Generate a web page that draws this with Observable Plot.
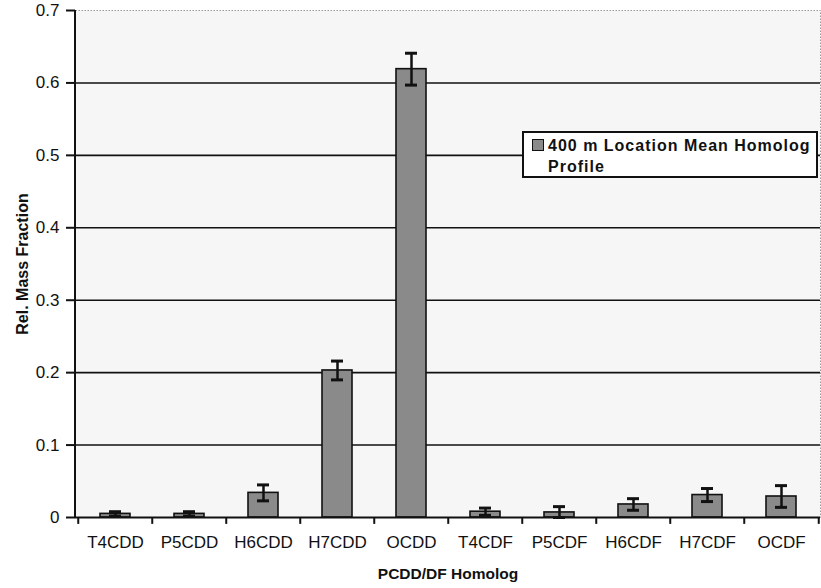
<!DOCTYPE html>
<html>
<head>
<meta charset="utf-8">
<script src="https://cdn.jsdelivr.net/npm/d3@7"></script>
<script src="https://cdn.jsdelivr.net/npm/@observablehq/plot@0.6"></script>
<style>
  html, body { margin: 0; padding: 0; background: #fff; }
  #wrap { position: relative; width: 821px; height: 588px; font-family: "Liberation Sans", Arial, sans-serif; }
  #legend {
    position: absolute; left: 522px; top: 131px; width: 288px; height: 43px;
    background: #fff; border: 2px solid #111; padding: 2px 0 0 4px; box-sizing: content-box;
    font-weight: bold; font-size: 16px; letter-spacing: 1px; color: #111; line-height: 21px;
  }
  #legend .sw { display: inline-block; width: 10px; height: 10px; background: #8a8a8a; border: 1.5px solid #111; margin: 0 4px 0 4px; vertical-align: 0px; }
</style>
</head>
<body>
<div id="wrap"></div>
<script>
const categories = ["T4CDD","P5CDD","H6CDD","H7CDD","OCDD","T4CDF","P5CDF","H6CDF","H7CDF","OCDF"];
const means =      [0.005, 0.005, 0.034, 0.203, 0.619, 0.008, 0.007, 0.018, 0.031, 0.029];
const errors =     [0.003, 0.003, 0.011, 0.013, 0.022, 0.005, 0.008, 0.008, 0.009, 0.015];
const yTicks = [0, 0.1, 0.2, 0.3, 0.4, 0.5, 0.6, 0.7];
const gridLines = [0.1, 0.2, 0.3, 0.4, 0.5, 0.6];
const seriesName = "400 m Location Mean Homolog";
const seriesName2 = "Profile";

const data = categories.map((c, i) => ({cat: c, v: means[i], lo: Math.max(0, means[i] - errors[i]), hi: means[i] + errors[i]}));

const W = 821, H = 588, mL = 75, mR = 1, mT = 10, mB = 71;
const bw = (W - mL - mR) / categories.length;
const fontFam = "'Liberation Sans', Arial, sans-serif";

const chart = Plot.plot({
  width: W, height: H,
  marginLeft: mL, marginRight: mR, marginTop: mT, marginBottom: mB,
  style: {fontFamily: fontFam, fontSize: "17px", color: "#111", background: "transparent"},
  x: {domain: categories, padding: 0, label: null},
  y: {domain: [0, 0.7], label: null},
  marks: [
    Plot.frame({fill: "#f6f6f6", stroke: "#999", strokeDasharray: "1.5,1.5"}),
    Plot.ruleY(gridLines, {stroke: "#111", strokeWidth: 1.6}),
    Plot.barY(data, {x: "cat", y: "v", fill: "#8a8a8a", stroke: "#111", strokeWidth: 1.6, insetLeft: 22, insetRight: 22}),
    Plot.ruleX(data, {x: "cat", y1: "lo", y2: "hi", stroke: "#111", strokeWidth: 2.5}),
    Plot.tickY(data, {x: "cat", y: "hi", stroke: "#111", strokeWidth: 3, insetLeft: 31, insetRight: 31}),
    Plot.tickY(data, {x: "cat", y: "lo", stroke: "#111", strokeWidth: 3, insetLeft: 31, insetRight: 31}),
    Plot.ruleY([0], {stroke: "#111", strokeWidth: 2}),
    Plot.ruleX(categories, {x: d => d, y1: 0, y2: -0.0095, dx: -bw / 2, stroke: "#111", strokeWidth: 2}),
    Plot.ruleX([categories[categories.length - 1]], {x: d => d, y1: 0, y2: -0.0095, dx: bw / 2, stroke: "#111", strokeWidth: 2}),
    Plot.axisX({tickSize: 0, tickPadding: 18, fontSize: 17}),
    Plot.axisY({ticks: yTicks, tickFormat: d => String(d), tickSize: 9, tickPadding: 7, fontSize: 17, stroke: "#111", strokeWidth: 2}),
    Plot.text(["Rel. Mass Fraction"], {frameAnchor: "left", dx: -53, rotate: -90, textAnchor: "middle", fontWeight: "bold", fontSize: 16, text: d => d}),
    Plot.text(["PCDD/DF Homolog"], {frameAnchor: "bottom", dy: 61, fontWeight: "bold", fontSize: 15.5, text: d => d})
  ]
});

const svg = d3.select(chart);
svg.append("line").attr("x1", mL).attr("x2", mL).attr("y1", mT).attr("y2", H - mB + 1)
  .attr("stroke", "#111").attr("stroke-width", 2);

const wrap = document.getElementById("wrap");
wrap.appendChild(chart);
const leg = document.createElement("div");
leg.id = "legend";
leg.style.height = "41px";
leg.innerHTML = `<span class="sw"></span>${seriesName}<br><span style="margin-left:20px">${seriesName2}</span>`;
wrap.appendChild(leg);
</script>
</body>
</html>
